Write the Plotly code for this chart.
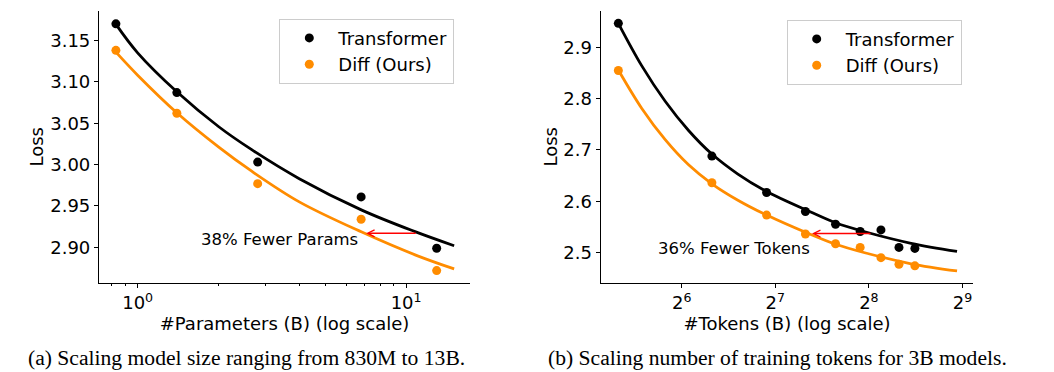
import math
import plotly.graph_objects as go

# ---------------- data ----------------
params_b = [0.83, 1.4, 2.8, 6.8, 13.0]
loss_transformer_params = [3.170, 3.087, 3.003, 2.961, 2.899]
loss_diff_params = [3.138, 3.062, 2.977, 2.934, 2.872]

fit_params_x = [0.832, 1.0, 1.41, 2.0, 2.66, 4.0, 6.84, 10.8, 15.1]
fit_transformer_params = [3.169, 3.135, 3.087, 3.046, 3.018, 2.983, 2.945, 2.919, 2.902]
fit_diff_params = [3.1355, 3.108, 3.0617, 3.0214, 2.992, 2.955, 2.9185, 2.891, 2.874]

tokens_b = [40, 80, 120, 160, 200, 240, 280, 320, 360]
loss_transformer_tokens = [2.947, 2.688, 2.617, 2.580, 2.555, 2.541, 2.544, 2.510, 2.508]
loss_diff_tokens = [2.855, 2.636, 2.573, 2.536, 2.517, 2.510, 2.490, 2.477, 2.474]

fit_tokens_x = [40, 47.6, 56.6, 67.3, 80, 97, 120, 165, 200, 250, 350, 492]
fit_transformer_tokens = [2.947, 2.864, 2.795, 2.738, 2.692, 2.653, 2.619, 2.580, 2.558, 2.540, 2.518, 2.502]
fit_diff_tokens = [2.856, 2.781, 2.720, 2.671, 2.634, 2.602, 2.573, 2.536, 2.516, 2.499, 2.478, 2.464]

params_ticks = [1, 10]
params_ticktext = ["10<sup>0</sup>", "10<sup>1</sup>"]
params_minor = [0.8, 0.9, 2, 3, 4, 5, 6, 7, 8, 9]
tokens_ticks = [64, 128, 256, 512]
tokens_ticktext = ["2<sup>6</sup>", "2<sup>7</sup>", "2<sup>8</sup>", "2<sup>9</sup>"]

BLACK = "#000000"
ORANGE = "#FF8C00"
FONT = "DejaVu Sans"

W, H = 1054, 372

fig = go.Figure()

line_style = dict(width=2.8, shape="spline", smoothing=1.0)

# left panel
fig.add_trace(go.Scatter(x=fit_params_x, y=fit_transformer_params, mode="lines",
                         line=dict(color=BLACK, **line_style),
                         showlegend=False, hoverinfo="skip", xaxis="x", yaxis="y"))
fig.add_trace(go.Scatter(x=fit_params_x, y=fit_diff_params, mode="lines",
                         line=dict(color=ORANGE, **line_style),
                         showlegend=False, hoverinfo="skip", xaxis="x", yaxis="y"))
fig.add_trace(go.Scatter(x=params_b, y=loss_transformer_params, mode="markers", name="Transformer",
                         marker=dict(color=BLACK, size=9), xaxis="x", yaxis="y", legend="legend"))
fig.add_trace(go.Scatter(x=params_b, y=loss_diff_params, mode="markers", name="Diff (Ours)",
                         marker=dict(color=ORANGE, size=9), xaxis="x", yaxis="y", legend="legend"))

# right panel
fig.add_trace(go.Scatter(x=fit_tokens_x, y=fit_transformer_tokens, mode="lines",
                         line=dict(color=BLACK, **line_style),
                         showlegend=False, hoverinfo="skip", xaxis="x2", yaxis="y2"))
fig.add_trace(go.Scatter(x=fit_tokens_x, y=fit_diff_tokens, mode="lines",
                         line=dict(color=ORANGE, **line_style),
                         showlegend=False, hoverinfo="skip", xaxis="x2", yaxis="y2"))
fig.add_trace(go.Scatter(x=tokens_b, y=loss_transformer_tokens, mode="markers", name="Transformer",
                         marker=dict(color=BLACK, size=9), xaxis="x2", yaxis="y2", legend="legend2"))
fig.add_trace(go.Scatter(x=tokens_b, y=loss_diff_tokens, mode="markers", name="Diff (Ours)",
                         marker=dict(color=ORANGE, size=9), xaxis="x2", yaxis="y2", legend="legend2"))

axis_common = dict(showline=True, linecolor="black", linewidth=1.2, showgrid=False, zeroline=False,
                   ticks="outside", ticklen=4, tickwidth=1.2, tickcolor="black",
                   tickfont=dict(family=FONT, size=18, color="black"),
                   title_font=dict(family=FONT, size=18, color="black"), mirror=False)

ydom = [1 - 282.5 / H, 1 - 11 / H]

fig.update_layout(
    width=W, height=H,
    margin=dict(l=0, r=0, t=0, b=0),
    paper_bgcolor="white", plot_bgcolor="white",
    font=dict(family=FONT, size=18, color="black"),
    xaxis=dict(domain=[99 / W, 470 / W], type="log",
               range=[math.log10(0.718), math.log10(17.3)],
               tickmode="array", tickvals=params_ticks, ticktext=params_ticktext,
               minor=dict(tickmode="array", tickvals=params_minor, ticks="outside", ticklen=2.5,
                          tickwidth=1, tickcolor="black", showgrid=False),
               title=dict(text="#Parameters (B) (log scale)", standoff=0),
               anchor="y", **axis_common),
    yaxis=dict(domain=ydom, range=[2.8576, 3.1855], tickmode="array",
               tickvals=[2.90, 2.95, 3.00, 3.05, 3.10, 3.15],
               ticktext=["2.90", "2.95", "3.00", "3.05", "3.10", "3.15"],
               title=dict(text="Loss", standoff=1), anchor="x", **axis_common),
    xaxis2=dict(domain=[600.7 / W, 973.3 / W], type="log",
                range=[math.log10(35.1), math.log10(555)],
                tickmode="array", tickvals=tokens_ticks, ticktext=tokens_ticktext,
                title=dict(text="#Tokens (B) (log scale)", standoff=0),
                anchor="y2", **axis_common),
    yaxis2=dict(domain=ydom, range=[2.4415, 2.971], tickmode="array",
                tickvals=[2.5, 2.6, 2.7, 2.8, 2.9],
                ticktext=["2.5", "2.6", "2.7", "2.8", "2.9"],
                title=dict(text="Loss", standoff=1), anchor="x2", **axis_common),
    legend=dict(x=279.3 / W, y=1 - 18.7 / H, xanchor="left", yanchor="top",
                bgcolor="rgba(255,255,255,0.8)", bordercolor="#cccccc", borderwidth=1,
                itemwidth=48,
                font=dict(family=FONT, size=18, color="black")),
    legend2=dict(x=786.7 / W, y=1 - 19.7 / H, xanchor="left", yanchor="top",
                 bgcolor="rgba(255,255,255,0.8)", bordercolor="#cccccc", borderwidth=1,
                 itemwidth=48,
                 font=dict(family=FONT, size=18, color="black")),
    showlegend=True,
)

annotations = [
    # arrows
    dict(x=math.log10(7.1), y=2.917, ax=math.log10(11.0), ay=2.917, xref="x", yref="y",
         axref="x", ayref="y", text="", showarrow=True, arrowhead=5, arrowsize=0.85,
         arrowwidth=1.6, arrowcolor="red"),
    dict(x=math.log10(6.74), y=2.9096, xref="x", yref="y", text="38% Fewer Params",
         showarrow=False, xanchor="right", yanchor="middle",
         font=dict(family=FONT, size=16.5, color="black")),
    dict(x=math.log10(168), y=2.537, ax=math.log10(262), ay=2.537, xref="x2", yref="y2",
         axref="x2", ayref="y2", text="", showarrow=True, arrowhead=5, arrowsize=0.85,
         arrowwidth=1.6, arrowcolor="red"),
    dict(x=math.log10(167.8), y=2.5074, xref="x2", yref="y2", text="36% Fewer Tokens",
         showarrow=False, xanchor="right", yanchor="middle",
         font=dict(family=FONT, size=16.5, color="black")),
    # captions
    dict(x=246.7 / W, y=1 - 358 / H, xref="paper", yref="paper",
         text="(a) Scaling model size ranging from 830M to 13B.", showarrow=False,
         xanchor="center", yanchor="middle",
         font=dict(family="Liberation Serif", size=21.6, color="black")),
    dict(x=777.5 / W, y=1 - 358 / H, xref="paper", yref="paper",
         text="(b) Scaling number of training tokens for 3B models.", showarrow=False,
         xanchor="center", yanchor="middle",
         font=dict(family="Liberation Serif", size=21.6, color="black")),
]
fig.update_layout(annotations=annotations)

fig.write_html("out.html", config={"displayModeBar": False},
               post_script="document.body.style.margin='0px';document.body.style.overflow='hidden';")
